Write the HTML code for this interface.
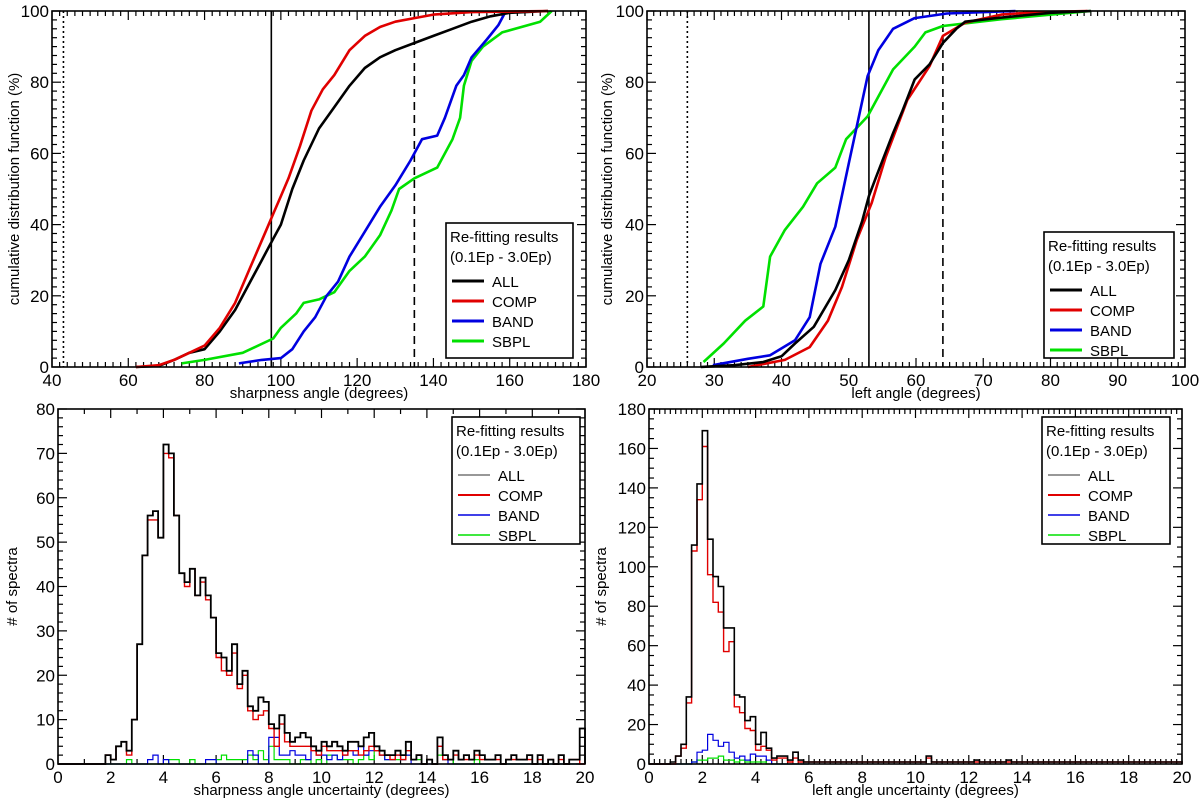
<!DOCTYPE html>
<html><head><meta charset="utf-8"><style>
html,body{margin:0;padding:0;background:#fff;}
svg{display:block;font-family:"Liberation Sans",sans-serif;}
</style></head><body>
<svg id="fig" width="1200" height="808" viewBox="0 0 1200 808" xmlns="http://www.w3.org/2000/svg"></svg>
<script>
// ---------- Data ----------
const tlAllX=[62,68,72,76,80,84,88,92,95,98,100,103,106,110,114,118,122,126,130,135,140,145,150,155,160,170];
const tlAllY=[0,0.3,2,4,5,10,16,24,30,36,40,50,58,67,73,79,84,87,89,91,93,95,97,98.5,99.5,100];
const tlCompX=[62,68,72,76,80,84,88,92,96,98,100,102,105,108,111,114,118,122,126,130,135,140,150,170];
const tlCompY=[0,0.5,2,4,6,11,18,28,38,43,48,53,62,72,78,82,89,93,95.5,97,98,99,99.7,100];
const tlBandX=[89,95,100,103,106,109,112,115,118,122,126,130,134,137,141,143,146,148,150,154,157,159];
const tlBandY=[1,2,2.5,5,10,14,20,24,31,38,45,51,58,64,65,70,79,82,87,92,96,100];
const tlSbplX=[74,80,90,98,100,104,106,110,114,118,122,126,129,131,135,141,145,147,148,150,153,158,168,171];
const tlSbplY=[1,2,4,8,11,15,18,19,21,27,31,37,44,50,53,56,64,70,79,86,90,94,97,100];
const trAllX=[28,29.8,33,37.3,40,42,44.8,48,50,52,53,54,56.6,58,59.8,62,64,66,67.3,72,80,86];
const trAllY=[0,0.2,0.5,1.4,3,6.6,11.3,21.6,30,41,48,53,65.7,72,80.8,85,91,95,97,98,99.5,100];
const trCompX=[35,40.5,44.2,46.9,49,51.2,53.4,55.5,58.7,62,64,67.3,72.7,78,85.5];
const trCompY=[0,2,5.6,13,22.5,35.7,46,59,75,84.5,93,96.7,99,99.7,100];
const trBandX=[29.8,35,38.3,42,44.2,45.8,48,50.1,51.2,52.8,54.4,56.6,59.8,64.6,74.8];
const trBandY=[0.5,2.3,3.3,7.5,14,29,39.4,58,67.6,81.7,89,95,98,99.3,100];
const trSbplX=[28.4,31.4,34.6,37.3,38.3,40.5,43.2,45.3,48,49.6,52.8,56.6,59.8,61.4,64,72.7,86];
const trSbplY=[1.4,6.6,13,17,31,38.5,45,51.6,56,64,70.4,83.6,90,94,95.8,97.7,100];
const blAll=[0,0,0,0,0,0,0,0,0,2,1,4,5,3,10,27,47,56,57,51,72,70,56,43,41,44,38,42,38,33,25,24,21,27,18,21,13,12,15,14,9,8,11,7,5,6,7,6,4,3,5,4,5,4,3,5,5,4,6,7,4,3,2,2,3,2,5,1,2,0,1,0,6,2,1,3,1,2,1,3,2,1,1,2,0,1,2,1,1,2,0,2,0,1,0,2,0,1,1,8];
const blComp=[0,0,0,0,0,0,0,0,0,2,1,4,5,2,10,27,47,55,55,51,70,69,56,43,40,44,38,41,37,33,24,21,20,25,17,20,12,10,11,12,8,4,9,5,4,4,4,4,3,2,4,3,3,3,2,3,3,2,3,4,3,2,2,1,2,1,3,1,2,0,1,0,4,1,1,2,1,1,1,2,1,1,1,1,0,1,1,1,1,1,0,1,0,1,0,1,0,1,1,0];
const blBand=[0,0,0,0,0,0,0,0,0,0,0,0,0,0,0,0,0,1,2,0,1,0,0,0,0,0,0,0,1,1,0,0,0,0,0,0,3,2,0,0,6,6,2,2,3,2,2,1,4,2,2,1,2,1,2,3,2,4,2,3,4,2,1,1,2,1,2,0,0,0,0,0,4,1,0,0,0,0,0,0,0,0,0,0,0,0,0,0,0,0,0,0,0,0,0,0,0,0,0,0];
const blSbpl=[0,0,0,0,0,0,0,0,0,0,0,0,0,1,0,0,0,0,0,0,0,1,1,0,0,1,0,0,0,0,1,2,1,1,1,1,2,1,3,1,4,1,1,1,0,0,1,1,0,1,0,2,2,1,1,1,0,1,2,1,3,2,1,1,1,1,2,1,1,0,1,0,2,1,1,0,0,0,0,1,0,0,0,0,0,0,0,0,0,0,0,0,0,0,0,0,0,0,0,0];
const brAll=[0,0,0,0,1,4,10,34,111,142,169,114,95,90,69,69,35,34,22,24,10,16,8,3,4,4,2,6,2,1,1,1,1,1,1,1,1,1,1,1,1,1,1,1,1,1,1,1,1,1,1,1,4,1,1,1,1,1,1,1,1,2,1,1,1,1,1,2,1,1,1,1,1,1,1,1,1,1,1,1,1,1,1,1,1,1,1,1,1,1,1,1,1,1,1,1,1,1,1,1];
const brComp=[0,0,0,0,0,4,8,31,108,134,161,96,82,77,57,62,29,26,18,17,7,9,7,2,3,3,1,3,1,1,1,1,1,1,1,1,1,1,1,1,1,1,1,1,1,1,1,1,1,1,1,1,3,1,1,1,1,1,1,1,1,1,1,1,1,1,1,1,1,1,1,1,1,1,1,1,1,1,1,1,1,1,1,1,1,1,1,1,1,1,1,1,1,1,1,1,1,1,1,1];
const brBand=[0,0,0,0,0,0,0,0,1,6,7,15,12,9,11,6,3,4,2,5,4,4,2,0,0,0,0,0,0,0];
const brSbpl=[0,0,0,0,0,0,0,0,1,2,2,3,3,4,2,2,1,2,1,1,1,1,0,0,0,0,0,0,0,0];
const tlVLines=[43,97.5,135];
const trVLines=[26,53,64];
const seriesNames=["ALL","COMP","BAND","SBPL"];

// ---------- Helpers ----------
const NS="http://www.w3.org/2000/svg";
const svg=document.getElementById('fig');
function mk(tag,attrs,parent){const e=document.createElementNS(NS,tag);for(const k in attrs)e.setAttribute(k,attrs[k]);(parent||svg).appendChild(e);return e;}
const colors={ALL:"#000",COMP:"#e00000",BAND:"#0000e0",SBPL:"#00e000"};

function panel(o){
  const g=mk('g',{});
  
  
  const sx=v=>o.x0+(v-o.xmin)/(o.xmax-o.xmin)*(o.x1-o.x0);
  const sy=v=>o.y1-(v-o.ymin)/(o.ymax-o.ymin)*(o.y1-o.y0);
  const tg=mk('g',{stroke:"#000","stroke-width":1.2},g);
  
  
  for(let v=o.xmin;v<=o.xmax+1e-9;v+=o.xminor){
    const maj=Math.abs(Math.round(v/o.xmajor)*o.xmajor-v)<1e-6;const L=maj?9:5;const X=sx(v);
    mk('line',{x1:X,x2:X,y1:o.y1,y2:o.y1-L},tg);mk('line',{x1:X,x2:X,y1:o.y0,y2:o.y0+L},tg);
  }
  for(let v=o.ymin;v<=o.ymax+1e-9;v+=o.yminor){
    const maj=Math.abs(Math.round(v/o.ymajor)*o.ymajor-v)<1e-6;const L=maj?9:5;const Y=sy(v);
    mk('line',{x1:o.x0,x2:o.x0+L,y1:Y,y2:Y},tg);mk('line',{x1:o.x1,x2:o.x1-L,y1:Y,y2:Y},tg);
  }
  for(let v=o.xmin;v<=o.xmax+1e-9;v+=o.xmajor){
    const t=mk('text',{x:sx(v),y:o.y1+19,"text-anchor":"middle","font-size":17},g);t.textContent=Math.round(v);
    
    
  }
  for(let v=o.ymin;v<=o.ymax+1e-9;v+=o.ymajor){
    const t=mk('text',{x:o.x0-3,y:sy(v)+6,"text-anchor":"end","font-size":17},g);t.textContent=Math.round(v);
    
    
  }
  const xt=mk('text',{x:(o.x0+o.x1)/2,y:o.y1+31,"text-anchor":"middle","font-size":15},g);xt.textContent=o.xtitle;
  
  
  const yc=(o.y0+o.y1)/2;
  const yt=mk('text',{x:o.ytx,y:yc,"text-anchor":"middle","font-size":15,transform:`rotate(-90 ${o.ytx} ${yc})`},g);yt.textContent=o.ytitle;
  
  
  return {g,sx,sy};
}
function frame(o,g){
  const r=mk('rect',{x:o.x0,y:o.y0,width:o.x1-o.x0,height:o.y1-o.y0,fill:"none",stroke:"#000","stroke-width":1.6},g);
  
  
}
function cdfLine(P,xs,ys,col,name){
  let d='';for(let i=0;i<xs.length;i++)d+=(i?'L':'M')+P.sx(xs[i]).toFixed(1)+','+P.sy(ys[i]).toFixed(1);
  const p=mk('path',{d,fill:"none",stroke:col,"stroke-width":2.6,"stroke-linejoin":"round"},P.g);
  
  
}
function histLine(P,vals,w,col,sw,name){
  let d='M'+P.sx(0).toFixed(1)+','+P.sy(0).toFixed(1);
  for(let i=0;i<vals.length;i++){const a=P.sx(i*w),b=P.sx((i+1)*w),y=P.sy(vals[i]);d+='L'+a.toFixed(1)+','+y.toFixed(1)+'L'+b.toFixed(1)+','+y.toFixed(1);}
  d+='L'+P.sx(vals.length*w).toFixed(1)+','+P.sy(0).toFixed(1);
  const p=mk('path',{d,fill:"none",stroke:col,"stroke-width":sw},P.g);
  
  
}
function vline(P,o,v,dash,name){
  const X=P.sx(v);
  const l=mk('line',{x1:X,x2:X,y1:o.y0,y2:o.y1,stroke:"#000","stroke-width":1.6,"stroke-dasharray":dash},P.g);
  
  
}
function legend(x,y,w,h,thick){
  const g=mk('g',{});
  
  
  mk('rect',{x,y,width:w,height:h,fill:"#fff",stroke:"#000","stroke-width":1.6},g);
  const t1=mk('text',{x:x+4,y:y+19,"font-size":15},g);t1.textContent="Re-fitting results";
  const t2=mk('text',{x:x+4,y:y+39,"font-size":15},g);t2.textContent="(0.1Ep - 3.0Ep)";
  seriesNames.forEach((n,i)=>{
    const yy=y+58+i*20;
    const e=mk('g',{},g);
    
    
    mk('line',{x1:x+6,x2:x+38,y1:yy,y2:yy,stroke:(!thick&&n==="ALL")?"#777":colors[n],"stroke-width":thick?3:(n==="COMP"?2:1.5)},e);
    const t=mk('text',{x:x+46,y:yy+6,"font-size":15},e);t.textContent=n;
  });
}

// ---------- Top-left ----------
const oTL={name:'sharpness-cdf-panel',x0:52,x1:586,y0:11,y1:367,xmin:40,xmax:180,ymin:0,ymax:100,xmajor:20,xminor:2,ymajor:20,yminor:2.5,xtitle:"sharpness angle (degrees)",ytitle:"cumulative distribution function (%)",ytx:19};
const PTL=panel(oTL);
vline(PTL,oTL,tlVLines[0],"2,3",'dotted-line');vline(PTL,oTL,tlVLines[1],"",'solid-line');vline(PTL,oTL,tlVLines[2],"8,5",'dashed-line');
cdfLine(PTL,tlSbplX,tlSbplY,colors.SBPL,'sbpl-cdf');cdfLine(PTL,tlBandX,tlBandY,colors.BAND,'band-cdf');
cdfLine(PTL,tlAllX,tlAllY,colors.ALL,'all-cdf');cdfLine(PTL,tlCompX,tlCompY,colors.COMP,'comp-cdf');
frame(oTL,PTL.g);legend(446,223,127,135,true);

// ---------- Top-right ----------
const oTR={name:'left-angle-cdf-panel',x0:647,x1:1185,y0:11,y1:367,xmin:20,xmax:100,ymin:0,ymax:100,xmajor:10,xminor:1,ymajor:20,yminor:2.5,xtitle:"left angle (degrees)",ytitle:"cumulative distribution function (%)",ytx:612};
const PTR=panel(oTR);
vline(PTR,oTR,trVLines[0],"2,3",'dotted-line');vline(PTR,oTR,trVLines[1],"",'solid-line');vline(PTR,oTR,trVLines[2],"8,5",'dashed-line');
cdfLine(PTR,trSbplX,trSbplY,colors.SBPL,'sbpl-cdf');cdfLine(PTR,trBandX,trBandY,colors.BAND,'band-cdf');
cdfLine(PTR,trCompX,trCompY,colors.COMP,'comp-cdf');cdfLine(PTR,trAllX,trAllY,colors.ALL,'all-cdf');
frame(oTR,PTR.g);legend(1044,232,130,126,true);

// ---------- Bottom-left ----------
const oBL={name:'sharpness-uncertainty-hist-panel',x0:58,x1:585,y0:409,y1:764,xmin:0,xmax:20,ymin:0,ymax:80,xmajor:2,xminor:1,ymajor:10,yminor:2,xtitle:"sharpness angle uncertainty (degrees)",ytitle:"# of spectra",ytx:17};
const PBL=panel(oBL);
histLine(PBL,blSbpl,0.2,colors.SBPL,1.2,'sbpl-hist');histLine(PBL,blBand,0.2,colors.BAND,1.2,'band-hist');
histLine(PBL,blComp,0.2,colors.COMP,1.4,'comp-hist');histLine(PBL,blAll,0.2,"#000",1.8,'all-hist');
frame(oBL,PBL.g);legend(452,417,128,127,false);

// ---------- Bottom-right ----------
const oBR={name:'left-uncertainty-hist-panel',x0:649,x1:1182,y0:409,y1:764,xmin:0,xmax:20,ymin:0,ymax:180,xmajor:2,xminor:0.2,ymajor:20,yminor:5,xtitle:"left angle uncertainty (degrees)",ytitle:"# of spectra",ytx:606};
const PBR=panel(oBR);
histLine(PBR,brSbpl,0.2,colors.SBPL,1.2,'sbpl-hist');histLine(PBR,brBand,0.2,colors.BAND,1.2,'band-hist');
histLine(PBR,brComp,0.2,colors.COMP,1.4,'comp-hist');histLine(PBR,brAll,0.2,"#000",1.6,'all-hist');
frame(oBR,PBR.g);legend(1042,417,128,127,false);
</script>
</body></html>
